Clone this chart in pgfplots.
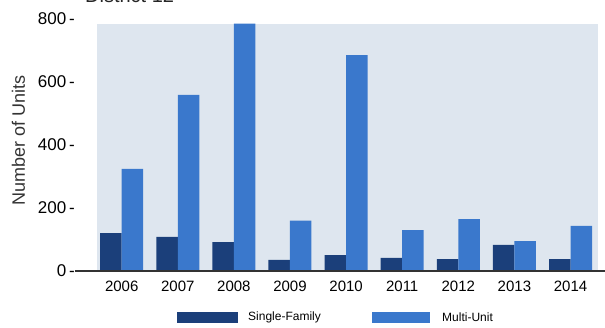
\documentclass[border=0pt]{standalone}
\usepackage{pgfplots}
\pgfplotsset{compat=1.18}
\usepackage{fontspec}
\setmainfont{Liberation Sans}
\definecolor{sf}{HTML}{1B3F7A}
\definecolor{mu}{HTML}{3A78CC}
\definecolor{bg}{HTML}{DEE6EF}
\begin{document}
\begin{tikzpicture}
\path[use as bounding box] (0,0) rectangle (605pt,328pt);
\begin{axis}[at={(97pt,57pt)}, anchor=south west, scale only axis,
  width=501pt, height=252pt,
  xmin=-0.44, xmax=8.49, ymin=0, ymax=800,
  xtick={0,1,2,3,4,5,6,7,8},
  xticklabels={2006,2007,2008,2009,2010,2011,2012,2013,2014},
  ytick={0,200,400,600,800},
  major tick length=0pt, axis line style={draw=none}, clip=false,
  /pgf/number format/assume math mode=true,
  xticklabel style={font=\fontsize{15}{15}\selectfont, anchor=base, inner sep=0pt, yshift=-21pt},
  yticklabel style={font=\fontsize{17}{17}\selectfont, anchor=east, inner sep=0pt, xshift=-22pt},
  yticklabel={\pgfmathprintnumber{\tick}\,-},
]
\fill[bg] (axis cs:-0.44,0) rectangle (axis cs:8.49,785);
\addplot[ybar, bar width=21.5pt, bar shift=-10.75pt, fill=sf, draw=none]
  coordinates {(0,120) (1,108) (2,92) (3,35) (4,50) (5,42) (6,38) (7,83) (8,38)};
\addplot[ybar, bar width=21.5pt, bar shift=10.75pt, fill=mu, draw=none]
  coordinates {(0,324) (1,559) (2,785) (3,160) (4,685) (5,130) (6,165) (7,95) (8,143)};
\end{axis}
\draw[line width=1.1pt, black!80] (75pt,57pt) -- (605pt,57pt);
\node[rotate=90, font=\fontsize{18}{18}\selectfont, text=black!80] at (18.5pt,188pt) {Number of Units};
\node[anchor=base west, font=\fontsize{20}{20}\selectfont, inner sep=0pt, text=black!85] at (85pt,325pt) {District 12};
\fill[sf] (177pt,5pt) rectangle (238pt,16pt);
\node[anchor=west, inner sep=0pt, font=\fontsize{12}{12}\selectfont] at (248pt,10.5pt) {Single-Family};
\fill[mu] (372pt,5pt) rectangle (430pt,16pt);
\node[anchor=west, inner sep=0pt, font=\fontsize{12}{12}\selectfont] at (442pt,10.5pt) {Multi-Unit};
\end{tikzpicture}
\end{document}
